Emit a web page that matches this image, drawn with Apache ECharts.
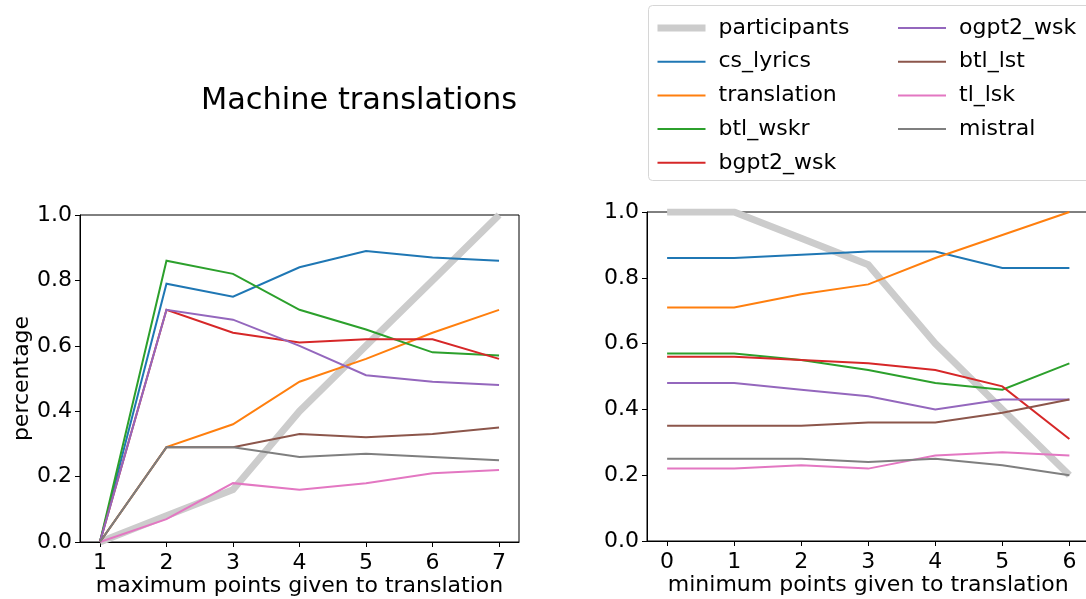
<!DOCTYPE html>
<html>
<head>
<meta charset="utf-8">
<script src="https://cdn.jsdelivr.net/npm/echarts@6/dist/echarts.min.js"></script>
<style>
html,body{margin:0;padding:0;background:#fff;}
#c{width:1086px;height:599px;}
</style>
</head>
<body>
<div id="c"></div>
<script>
// ---- data ----
const seriesNames = ['participants','cs_lyrics','translation','btl_wskr','bgpt2_wsk','ogpt2_wsk','btl_lst','tl_lsk','mistral'];
const xMaxPoints = [1,2,3,4,5,6,7];
const xMinPoints = [0,1,2,3,4,5,6];

// left: maximum points given to translation
const maxParticipants = [0, 0.08, 0.16, 0.40, 0.60, 0.80, 1.00];
const maxCsLyrics     = [0, 0.79, 0.75, 0.84, 0.89, 0.87, 0.86];
const maxTranslation  = [0, 0.29, 0.36, 0.49, 0.56, 0.64, 0.71];
const maxBtlWskr      = [0, 0.86, 0.82, 0.71, 0.65, 0.58, 0.57];
const maxBgpt2Wsk     = [0, 0.71, 0.64, 0.61, 0.62, 0.62, 0.56];
const maxOgpt2Wsk     = [0, 0.71, 0.68, 0.60, 0.51, 0.49, 0.48];
const maxBtlLst       = [0, 0.29, 0.29, 0.33, 0.32, 0.33, 0.35];
const maxTlLsk        = [0, 0.07, 0.18, 0.16, 0.18, 0.21, 0.22];
const maxMistral      = [0, 0.29, 0.29, 0.26, 0.27, 0.26, 0.25];

// right: minimum points given to translation
const minParticipants = [1.00, 1.00, 0.92, 0.84, 0.60, 0.40, 0.20];
const minCsLyrics     = [0.86, 0.86, 0.87, 0.88, 0.88, 0.83, 0.83];
const minTranslation  = [0.71, 0.71, 0.75, 0.78, 0.86, 0.93, 1.00];
const minBtlWskr      = [0.57, 0.57, 0.55, 0.52, 0.48, 0.46, 0.54];
const minBgpt2Wsk     = [0.56, 0.56, 0.55, 0.54, 0.52, 0.47, 0.31];
const minOgpt2Wsk     = [0.48, 0.48, 0.46, 0.44, 0.40, 0.43, 0.43];
const minBtlLst       = [0.35, 0.35, 0.35, 0.36, 0.36, 0.39, 0.43];
const minTlLsk        = [0.22, 0.22, 0.23, 0.22, 0.26, 0.27, 0.26];
const minMistral      = [0.25, 0.25, 0.25, 0.24, 0.25, 0.23, 0.20];

const maxData = [maxParticipants, maxCsLyrics, maxTranslation, maxBtlWskr, maxBgpt2Wsk, maxOgpt2Wsk, maxBtlLst, maxTlLsk, maxMistral];
const minData = [minParticipants, minCsLyrics, minTranslation, minBtlWskr, minBgpt2Wsk, minOgpt2Wsk, minBtlLst, minTlLsk, minMistral];

// ---- style ----
const colors = ['#cccccc','#1f77b4','#ff7f0e','#2ca02c','#d62728','#9467bd','#8c564b','#e377c2','#7f7f7f'];
const widths = [7,2,2,2,2,2,2,2,2];
const FONT = 'DejaVu Sans';
const FS = 22;

function mkSeries(xs, data, gridIdx) {
  return seriesNames.map((name, i) => ({
    name: name,
    type: 'line',
    xAxisIndex: gridIdx,
    yAxisIndex: gridIdx,
    data: xs.map((x, k) => [x, data[i][k]]),
    symbol: 'none',
    color: colors[i],
    lineStyle: { width: widths[i], color: colors[i], cap: 'butt', join: 'miter' },
    z: i === 0 ? 1 : 2 + i,
    animation: false,
    clip: true
  }));
}

function xAxis(gridIdx, min, max, ticks, name) {
  return {
    type: 'value', gridIndex: gridIdx, min: min, max: max,
    name: name, nameLocation: 'middle', nameGap: 44, nameMoveOverlap: false,
    nameTextStyle: { fontFamily: FONT, fontSize: FS, color: '#000', verticalAlign: 'middle' },
    axisLine: { show: true, onZero: false, lineStyle: { color: '#000', width: 1 } },
    axisTick: { show: true, length: 5, inside: false, lineStyle: { color: '#000' }, customValues: ticks },
    axisLabel: { show: true, margin: 10, fontFamily: FONT, fontSize: FS, color: '#000', customValues: ticks,
                 formatter: v => String(v) },
    splitLine: { show: false }
  };
}
function yAxis(gridIdx, name) {
  return {
    type: 'value', gridIndex: gridIdx, min: 0, max: 1, interval: 0.2,
    name: name || '', nameLocation: 'middle', nameGap: 58, nameRotate: 90, nameMoveOverlap: false,
    nameTextStyle: { fontFamily: FONT, fontSize: FS, color: '#000', verticalAlign: 'middle' },
    axisLine: { show: true, onZero: false, lineStyle: { color: '#000', width: 1 } },
    axisTick: { show: true, length: 5, lineStyle: { color: '#000' } },
    axisLabel: { show: true, margin: 8, fontFamily: FONT, fontSize: FS, color: '#000',
                 formatter: v => v.toFixed(1) },
    splitLine: { show: false }
  };
}

function legendData(names) {
  return names.map(n => {
    const i = seriesNames.indexOf(n);
    return { name: n, lineStyle: { width: widths[i], color: colors[i] } };
  });
}

const legendCommon = {
  orient: 'vertical', padding: 0, itemWidth: 48, itemHeight: 14, itemGap: 11.7,
  textStyle: { fontFamily: FONT, fontSize: FS, color: '#000', padding: [0,0,0,8] },
  itemStyle: { opacity: 0, borderWidth: 0 },
  selectedMode: false
};

const gridCommon = {
  show: true, borderColor: '#000', borderWidth: 1, backgroundColor: 'transparent',
  containLabel: false, outerBoundsMode: 'none'
};

const option = {
  backgroundColor: '#fff',
  animation: false,
  title: {
    text: 'Machine translations', left: 201, top: 86, padding: 0,
    textStyle: { fontFamily: FONT, fontSize: 30.4, fontWeight: 'normal', color: '#000' }
  },
  graphic: [{
    type: 'rect', left: 648, top: 5, z: 0,
    shape: { width: 445, height: 175, r: 4 },
    style: { fill: '#ffffff', stroke: '#d6d6d6', lineWidth: 1 }
  }],
  legend: [
    Object.assign({}, legendCommon, { left: 654, top: 17, data: legendData(seriesNames.slice(0, 5)) }),
    Object.assign({}, legendCommon, { left: 897, top: 17, data: legendData(seriesNames.slice(5)) })
  ],
  grid: [
    Object.assign({ left: 80, top: 215, width: 439, height: 327 }, gridCommon),
    Object.assign({ left: 647, top: 212, width: 442.5, height: 329 }, gridCommon)
  ],
  xAxis: [
    xAxis(0, 0.7, 7.3, xMaxPoints, 'maximum points given to translation'),
    xAxis(1, -0.3, 6.3, xMinPoints, 'minimum points given to translation')
  ],
  yAxis: [ yAxis(0, 'percentage'), yAxis(1, '') ],
  series: mkSeries(xMaxPoints, maxData, 0).concat(mkSeries(xMinPoints, minData, 1))
};

const chart = echarts.init(document.getElementById('c'), null, { renderer: 'canvas' });
chart.setOption(option);
</script>
</body>
</html>
